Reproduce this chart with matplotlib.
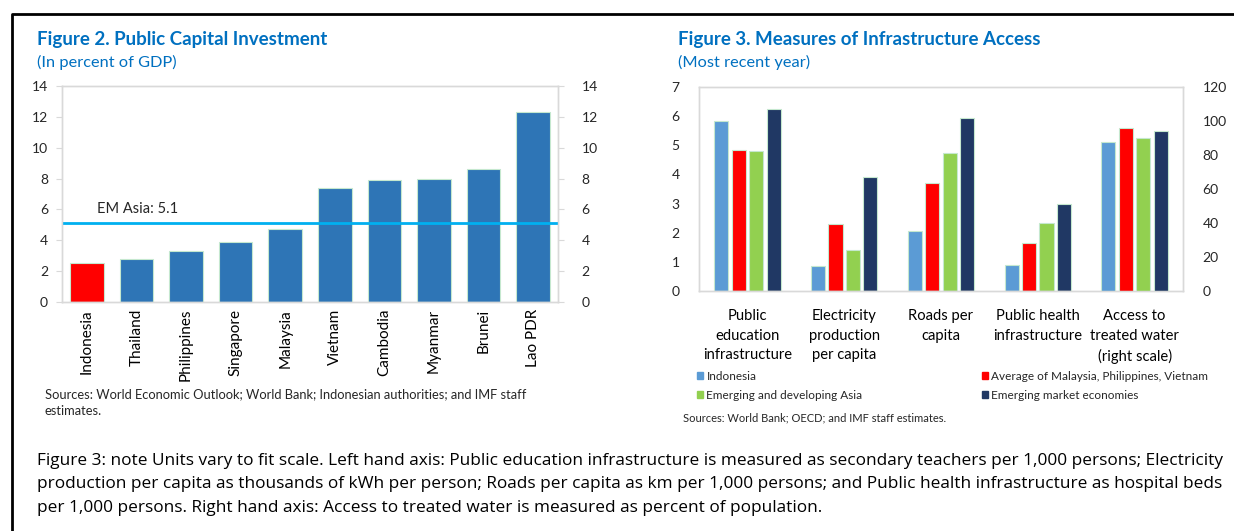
import matplotlib
matplotlib.use("Agg")
import matplotlib.pyplot as plt
import matplotlib.patches as mpatches
import numpy as np

plt.rcParams['font.family'] = ['Lato', 'DejaVu Sans']

# Figure 2 data
countries = ['Indonesia', 'Thailand', 'Philippines', 'Singapore', 'Malaysia',
             'Vietnam', 'Cambodia', 'Myanmar', 'Brunei', 'Lao PDR']
invest = [2.5, 2.8, 3.3, 3.9, 4.7, 7.4, 7.9, 8.0, 8.6, 12.3]
em_asia = 5.1

# Figure 3 data (last category is on the right scale)
measures = ['Public\neducation\ninfrastructure', 'Electricity\nproduction\nper capita',
            'Roads per\ncapita', 'Public health\ninfrastructure',
            'Access to\ntreated water\n(right scale)']
groups = ['Indonesia', 'Average of Malaysia, Philippines, Vietnam',
          'Emerging and developing Asia', 'Emerging market economies']
indonesia = [5.85, 0.85, 2.05, 0.9]
avg_mpv = [4.85, 2.3, 3.7, 1.65]
em_dev_asia = [4.8, 1.4, 4.75, 2.35]
em_market = [6.25, 3.9, 5.95, 3.0]
water = [87.7, 96.1, 90.0, 94.0]

note_lines = [
    'Figure 3: note Units vary to fit scale. Left hand axis: Public education infrastructure is '
    'measured as secondary teachers per 1,000 persons; Electricity',
    'production per capita as thousands of kWh per person; Roads per capita as km per 1,000 '
    'persons; and Public health infrastructure as hospital beds',
    'per 1,000 persons. Right hand axis: Access to treated water is measured as percent of population.',
]

blue_title = '#0070C0'
bar_blue = '#2E75B6'
grp_colors = ['#5B9BD5', '#FF0000', '#92D050', '#203864']
edge = '#C5E8CF'
frame = '#D9D9D9'
text_col = '#262626'

W, H = 1234, 531
fig = plt.figure(figsize=(W / 100, H / 100), dpi=100)


def fx(px):
    return px / W


def fy(py):
    return 1 - py / H


# outer box (top and left edges)
fig.add_artist(plt.Line2D([fx(12), fx(12), 1.0], [0, fy(14), fy(14)],
                          color='black', lw=2, transform=fig.transFigure))


def style_axes(ax, ax2):
    for a in (ax, ax2):
        for s in a.spines.values():
            s.set_color(frame)
            s.set_linewidth(1)
        a.tick_params(axis='y', colors=text_col, labelsize=10, length=4, width=0.8, color=frame)


# ---- Figure 2 ----
ax = fig.add_axes([fx(62), fy(302), 496 / W, 216 / H])
x = np.arange(len(countries))
cols = ['#FF0000'] + [bar_blue] * (len(countries) - 1)
ax.bar(x, invest, width=0.68, color=cols, edgecolor=edge, linewidth=0.8, zorder=2)
ax.axhline(em_asia, color='#00B0F0', lw=2, zorder=3)
ax.text(0.2, em_asia + 0.5, 'EM Asia: %.1f' % em_asia, fontsize=10.5, color=text_col,
        va='bottom', ha='left')
ax.set_xlim(-0.5, len(countries) - 0.5)
ax.set_ylim(0, 14)
ax.set_yticks(range(0, 15, 2))
ax2 = ax.twinx()
ax2.set_ylim(0, 14)
ax2.set_yticks(range(0, 15, 2))
style_axes(ax, ax2)
ax.set_xticks(x)
ax.set_xticklabels(countries, rotation=90, fontsize=11, color='black')
ax.tick_params(axis='x', length=0, pad=5)
ax.tick_params(axis='y', pad=6)
ax2.tick_params(axis='y', pad=13)

fig.text(fx(37), fy(40), 'Figure 2. Public Capital Investment', fontsize=13.5,
         fontweight='bold', color=blue_title, va='center')
fig.text(fx(37), fy(62), '(In percent of GDP)', fontsize=11.8,
         color=blue_title, va='center')
fig.text(fx(45), fy(394),
         'Sources: World Economic Outlook; World Bank; Indonesian authorities; and IMF staff',
         fontsize=9.3, color=text_col, va='center')
fig.text(fx(45), fy(411), 'estimates.', fontsize=9.3, color=text_col, va='center')

# ---- Figure 3 ----
bx = fig.add_axes([fx(699), fy(291), 484 / W, 204 / H])
bx2 = bx.twinx()
gx = np.arange(len(measures))
step = 0.18
bw = 0.145
left_series = [indonesia, avg_mpv, em_dev_asia, em_market]
for i, (vals, c) in enumerate(zip(left_series, grp_colors)):
    off = (i - 1.5) * step
    bx.bar(gx[:4] + off, vals, width=bw, color=c, edgecolor=edge, linewidth=0.8, zorder=2)
    bx2.bar(gx[4] + off, water[i], width=bw, color=c, edgecolor=edge, linewidth=0.8, zorder=2)
bx.set_xlim(-0.5, len(measures) - 0.5)
bx.set_ylim(0, 7)
bx.set_yticks(range(0, 8))
bx2.set_ylim(0, 120)
bx2.set_yticks(range(0, 121, 20))
style_axes(bx, bx2)
bx.set_xticks(gx)
bx.set_xticklabels(measures, fontsize=10.6, color='black', linespacing=1.5)
bx.tick_params(axis='x', length=0, pad=13)
bx.tick_params(axis='y', length=0, pad=14)
bx2.tick_params(axis='y', length=0, pad=14)

handles = [mpatches.Patch(color=c, label=n) for c, n in zip(grp_colors, groups)]
leg = fig.legend(handles=[handles[0], handles[2], handles[1], handles[3]],
                 loc='upper left', bbox_to_anchor=(fx(697), fy(371)),
                 ncol=2, frameon=False, fontsize=8.5, handlelength=0.55, handleheight=0.55,
                 handletextpad=0.25, columnspacing=10.1, labelspacing=0.65,
                 borderaxespad=0, borderpad=0)
for t in leg.get_texts():
    t.set_color(text_col)

fig.text(fx(678), fy(40), 'Figure 3. Measures of Infrastructure Access', fontsize=13.5,
         fontweight='bold', color=blue_title, va='center')
fig.text(fx(678), fy(62), '(Most recent year)', fontsize=11.8,
         color=blue_title, va='center')
fig.text(fx(683), fy(418), 'Sources: World Bank; OECD; and IMF staff estimates.',
         fontsize=8, color=text_col, va='center')

# ---- note ----
for k, line in enumerate(note_lines):
    fig.text(fx(37), fy(461 + 23.5 * k), line, fontsize=12.4,
             family=['Open Sans', 'DejaVu Sans'], color='black', va='center')

fig.savefig('out.png', dpi=100)
